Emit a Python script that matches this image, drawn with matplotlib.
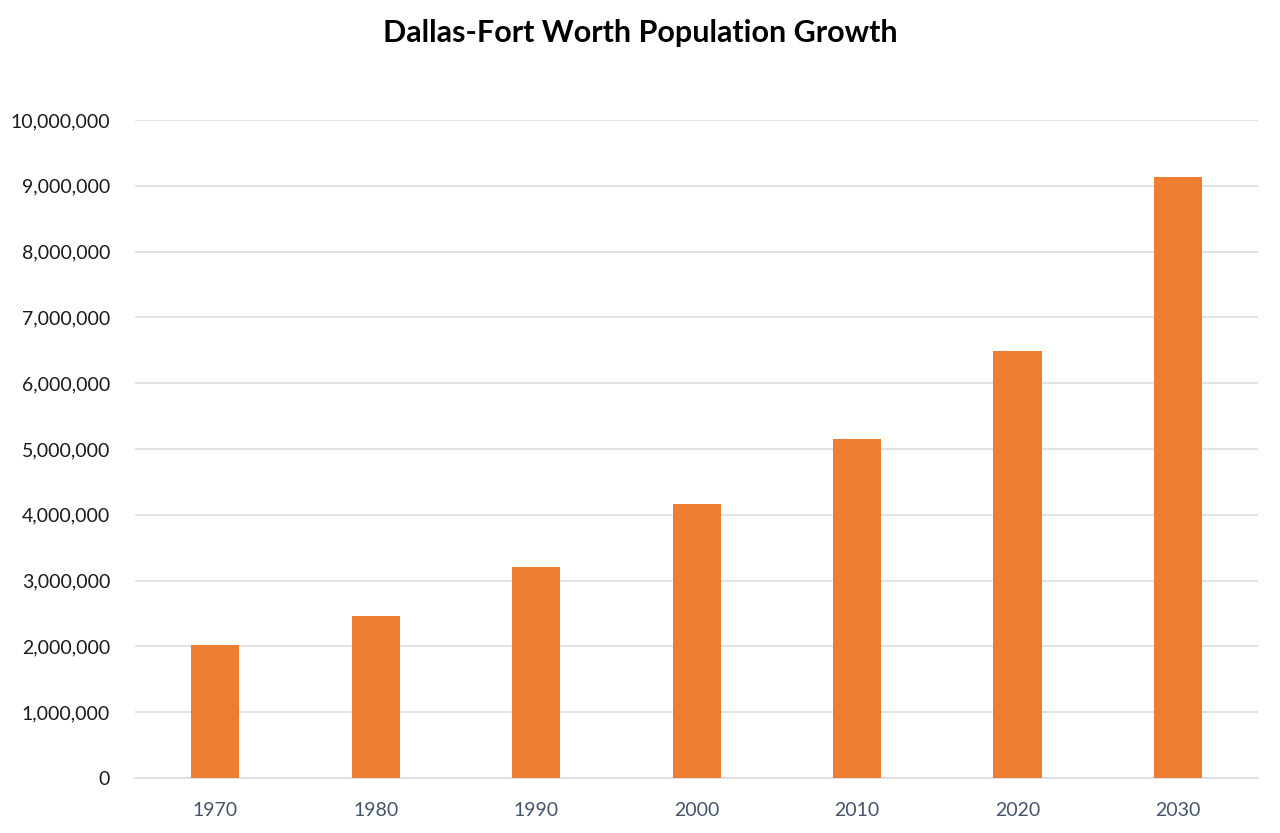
import matplotlib
matplotlib.use('Agg')
import matplotlib.pyplot as plt
from matplotlib.ticker import FuncFormatter, MultipleLocator

years = ['1970', '1980', '1990', '2000', '2010', '2020', '2030']
population = [2020000, 2465000, 3210000, 4165000, 5150000, 6490000, 9130000]

plt.rcParams['font.family'] = ['Lato', 'DejaVu Sans']

fig = plt.figure(figsize=(12.8, 8.33), dpi=100)
fig.set_facecolor('w')
ax = fig.add_axes([0.1055, 0.066, 0.8775, 0.790])

x = range(len(years))
ax.bar(x, population, width=0.3, color='#ED7D31', zorder=3)

ax.set_xlim(-0.5, len(years) - 0.5)
ax.set_ylim(0, 10000000)
ax.yaxis.set_major_locator(MultipleLocator(1000000))
ax.yaxis.set_major_formatter(FuncFormatter(lambda v, p: f'{int(v):,}'))
ax.set_xticks(list(x))
ax.set_xticklabels(years)

ax.grid(axis='y', color='#D9DDE3', linewidth=1.2, zorder=0)
for s in ['top', 'right', 'left']:
    ax.spines[s].set_visible(False)
ax.spines['bottom'].set_color('#D9DDE3')
ax.spines['bottom'].set_linewidth(1.2)
ax.tick_params(axis='both', length=0)
ax.tick_params(axis='y', labelsize=14, labelcolor='#1a1a1a', pad=18)
ax.tick_params(axis='x', labelsize=14, labelcolor='#44546A', pad=17)

fig.text(0.5, 0.960, 'Dallas-Fort Worth Population Growth', ha='center',
         va='center', fontsize=22, fontweight='bold', color='black')

fig.savefig('out.png', dpi=100)
